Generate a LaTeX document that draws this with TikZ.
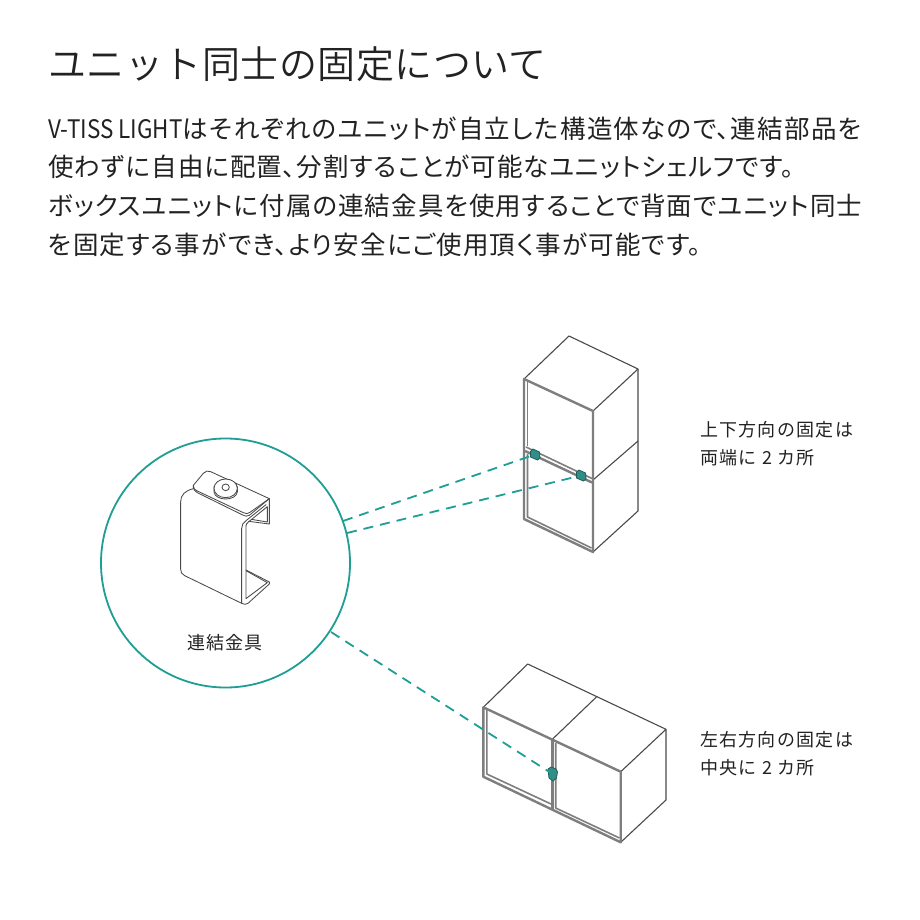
\documentclass[tikz,border=0pt]{standalone}
\usepackage{fontspec}
\newfontfamily\jpA[RawFeature={+palt},LetterSpace=4]{Noto Sans CJK JP}
\newfontfamily\jpAw[RawFeature={+palt},LetterSpace=5.2]{Noto Sans CJK JP}
\newfontfamily\jpAv[RawFeature={+palt},LetterSpace=4.9]{Noto Sans CJK JP}
\newfontfamily\jpLat[FakeStretch=0.88]{Noto Sans CJK JP}
\newfontfamily\jpB[LetterSpace=7]{Noto Sans CJK JP}
\newfontfamily\jpC[LetterSpace=1.3]{Noto Sans CJK JP DemiLight}
\definecolor{ink}{HTML}{222222}
\definecolor{teal}{HTML}{1E9E94}
\definecolor{blob}{HTML}{2F8F88}
\definecolor{frameg}{HTML}{7E7E7E}
\definecolor{edge}{HTML}{4A4A4A}
\tikzset{
 titletext/.style={anchor=base west,inner sep=0pt,text=ink,font=\jpC\fontsize{38}{38}\selectfont},
 bodytext/.style={anchor=base west,inner sep=0pt,text=ink,font=\jpA\fontsize{25.5}{25.5}\selectfont},
 labeltext/.style={anchor=base west,inner sep=0pt,text=ink,font=\jpB\fontsize{18}{18}\selectfont},
 thinedge/.style={draw=edge,line width=1.1pt,line join=round},
 frameline/.style={draw=frameg,line width=2.4pt,line join=round},
 innerline/.style={draw=frameg,line width=1.6pt,line join=round},
 linkdash/.style={draw=teal,line width=1.8pt,dash pattern=on 10pt off 7pt,shorten >=3pt},
 clipblob/.style={draw=blob!65!black,fill=blob,line width=0.8pt,line join=round},
 bracketline/.style={draw=edge,line width=0.85pt,line join=round,line cap=round},
}
\begin{document}
\begin{tikzpicture}[x=1pt,y=-1pt]
\useasboundingbox[fill=white] (0,0) rectangle (920,920);
% text
\node[titletext] (title) at (48,78.5) {ユニット同士の固定について};
\node[bodytext] (l1) at (48,138.5) {{\jpLat V-TISS LIGHT}{\jpAw はそれぞれのユニットが自立した構造体なので、連結部品を}};
\node[bodytext] (l2) at (48,176.5) {使わずに自由に配置、分割することが可能なユニットシェルフです。};
\node[bodytext] (l3) at (48,215.5) {ボックスユニットに付属の連結金具を使用することで背面でユニット同士};
\node[bodytext] (l4) at (48,254.5) {\jpAv を固定する事ができ、より安全にご使用頂く事が可能です。};
\node[labeltext] (a1) at (700,436) {上下方向の固定は};
\node[labeltext] (a2) at (700,464) {両端に 2 カ所};
\node[labeltext] (b1) at (700,746) {左右方向の固定は};
\node[labeltext] (b2) at (700,774) {中央に 2 カ所};
\node[labeltext] (partname) at (187,649.5) {連結金具};
% circle
\node[draw=teal,line width=1.8pt,shape=circle,minimum size=249pt,inner sep=0pt] (lens) at (225.5,563) {};
% upper cube
\coordinate (ub) at (569,336); \coordinate (ur) at (638,369);
\coordinate (uf) at (593,411); \coordinate (ul) at (524,379);
\coordinate (umr) at (638,441); \coordinate (umf) at (593,480);
\coordinate (ubr) at (638,511); \coordinate (ubf) at (593,552); \coordinate (ubl) at (524,519);
\draw[thinedge] (ul) -- (ub) -- (ur) -- (uf);
\draw[thinedge] (ur) -- (ubr) -- (ubf);
\draw[thinedge] (umr) -- (umf);
\draw[frameline] (ul) -- (ubl) -- (ubf) -- (uf) -- cycle;
\draw[innerline] (527.5,382) -- (527.5,446);
\draw[innerline] (527.5,454) -- (527.5,517) -- (591.5,548);
\draw[innerline] (526,447) -- (592,478.5);
\draw[frameline] (525,451) -- (592,482.5);
% upper clips
\coordinate (c1) at (535,454.5);
\coordinate (c2) at (581,475.5);
\draw[clipblob] (530.5,451.5) -- (533,449) -- (539.5,452) -- (540,458) -- (537.5,460) -- (530.5,457) -- cycle;
\draw[clipblob] (576.5,472.5) -- (579,470) -- (585.5,473) -- (586,479) -- (583.5,481) -- (576.5,478) -- cycle;
% lower box
\coordinate (lb) at (527.7,664); \coordinate (lr) at (666,729.3);
\coordinate (lfr) at (620.7,771.7); \coordinate (lfm) at (552.3,739.3);
\coordinate (ll) at (483.3,707.3); \coordinate (lmb) at (596.7,696.7);
\coordinate (lbr) at (666,800); \coordinate (lbf) at (620.7,842.3);
\coordinate (lbm) at (552.3,810); \coordinate (lbl) at (483.3,776.7);
\draw[thinedge] (ll) -- (lb) -- (lr) -- (lfr);
\draw[thinedge] (lmb) -- (lfm);
\draw[thinedge] (lr) -- (lbr) -- (lbf);
\draw[frameline] (ll) -- (lbl) -- (lbf) -- (lfr) -- cycle;
\draw[frameline] (lfm) -- (lbm);
\draw[innerline] (486.8,710) -- (486.8,774) -- (551,804);
\draw[innerline] (555.7,743) -- (555.7,808) -- (619.5,838);
% lower clip
\coordinate (c3) at (552.5,774);
\draw[clipblob] (548,769) -- (551,767) -- (556,769) -- (557.5,772) -- (556.5,778) -- (553,781) -- (549,778) -- cycle;
% dashes
\coordinate (d1) at (343,521); \coordinate (d2) at (347,533); \coordinate (d3) at (331,632);
\draw[linkdash] (d1) -- (c1);
\draw[linkdash] (d2) -- (c2);
\draw[linkdash] (d3) -- (c3);
% bracket
\begin{scope}[shift={(160,460)},x=0.3333pt,y=-0.3333pt]
\draw[bracketline] (100,76) -- (130,40) .. controls (137,33) and (143,31) .. (152,35) -- (328,116) -- (268,166)
 .. controls (262,170) and (255,169) .. (248,165) -- (112,98) .. controls (106,95) and (102,90) .. (100,84) -- cycle;
\draw[bracketline] (100,76) .. controls (100,86) and (104,90) .. (112,93) -- (250,158) .. controls (258,162) and (264,162) .. (270,157) -- (328,116);
\draw[bracketline] (100,86) .. controls (75,92) and (62,105) .. (62,125) -- (62,328) .. controls (62,337) and (66,343) .. (74,347) -- (245,430) -- (245,205) .. controls (245,195) and (250,187) .. (258,182) -- (318,134);
\draw[bracketline] (258,198) .. controls (258,194) and (260,190) .. (264,187) -- (322,140) -- (322,186) -- (274,178);
\draw[bracketline] (328,116) -- (328,192) -- (266,184);
\draw[bracketline] (258,198) -- (258,416) -- (322,368) -- (258,332);
\draw[bracketline] (245,430) .. controls (252,434) and (258,434) .. (264,430) -- (328,372) -- (328,366) -- (258,330);
\coordinate (stud) at (197,85);
\draw[bracketline,fill=white] (162,80) -- (162,96) .. controls (166,124) and (228,124) .. (232,96) -- (232,80);
\draw[bracketline,fill=white] (stud) ellipse [x radius=35,y radius=28];
\draw[bracketline] (197,82) ellipse [x radius=11,y radius=10];
\end{scope}
\end{tikzpicture}
\end{document}
